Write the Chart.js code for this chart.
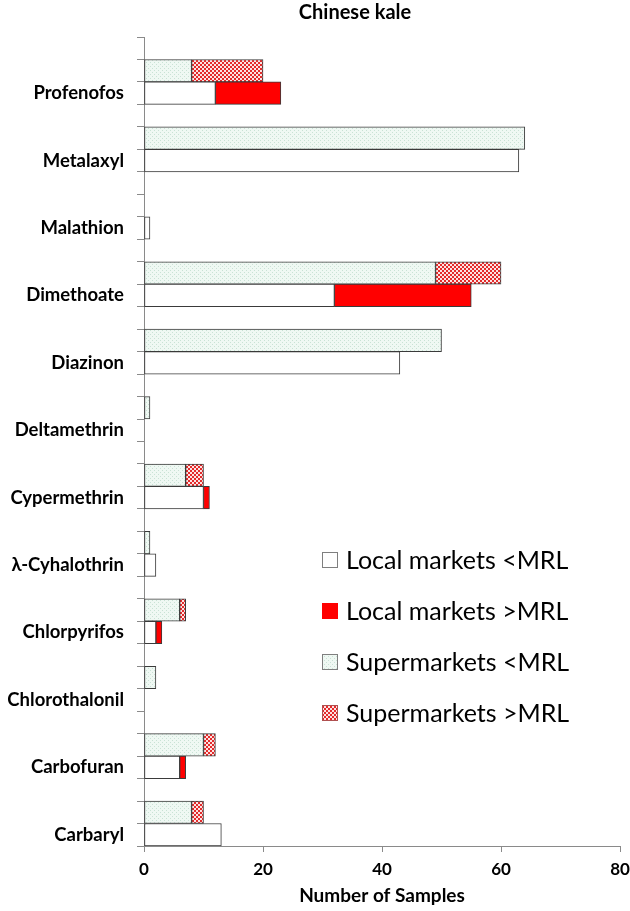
<!DOCTYPE html>
<html>
<head>
<meta charset="utf-8">
<script src="https://cdn.jsdelivr.net/npm/chart.js@4.4.0/dist/chart.umd.min.js"></script>
<style>
  body { margin: 0; background: #fff; }
  #wrap { width: 630px; height: 911px; }
</style>
</head>
<body>
<div id="wrap"><canvas id="kaleChart" width="630" height="911"></canvas></div>
<script>
// Values (number of samples)
const categories = ["Profenofos", "Metalaxyl", "Malathion", "Dimethoate", "Diazinon", "Deltamethrin",
                    "Cypermethrin", "λ-Cyhalothrin", "Chlorpyrifos", "Chlorothalonil", "Carbofuran", "Carbaryl"];
const localBelow = [12, 63, 1, 32, 43, 0, 10, 2, 2, 0, 6, 13];
const localAbove = [11, 0, 0, 23, 0, 0, 1, 0, 1, 0, 1, 0];
const superBelow = [8, 64, 0, 49, 50, 1, 7, 1, 6, 2, 10, 8];
const superAbove = [12, 0, 0, 11, 0, 0, 3, 0, 1, 0, 2, 2];
const xTicks = [0, 20, 40, 60, 80];

const FONT = "Lato, 'Open Sans', sans-serif";

// Fill patterns like the Excel originals
function dotPattern() {
    const c = document.createElement("canvas");
    c.width = 4; c.height = 4;
    const g = c.getContext("2d");
    g.fillStyle = "#eff8f3";
    g.fillRect(0, 0, 4, 4);
    g.fillStyle = "#c9e2d5";
    g.fillRect(0, 0, 1, 1);
    g.fillRect(2, 2, 1, 1);
    return g.createPattern(c, "repeat");
}
function checkPattern() {
    const c = document.createElement("canvas");
    c.width = 4; c.height = 4;
    const g = c.getContext("2d");
    g.fillStyle = "#fbe3e3";
    g.fillRect(0, 0, 4, 4);
    g.fillStyle = "#e42a2a";
    g.fillRect(0, 0, 2, 2);
    g.fillRect(2, 2, 2, 2);
    return g.createPattern(c, "repeat");
}

// Each pesticide takes three rows: blank, supermarkets, local markets
const rowLabels = [];
const rows = { lb: [], la: [], sb: [], sa: [] };
for (let i = 0; i < categories.length; i++) {
    rowLabels.push("", "", categories[i]);
    rows.lb.push(null, null, localBelow[i]);
    rows.la.push(null, null, localAbove[i]);
    rows.sb.push(null, superBelow[i], null);
    rows.sa.push(null, superAbove[i], null);
}

const edge = "#3a3a3a";
const datasets = [
    { label: "Local markets <MRL", data: rows.lb, backgroundColor: "#ffffff", legendBorder: "#7f7f7f" },
    { label: "Local markets >MRL", data: rows.la, backgroundColor: "#ff0000", legendBorder: "#ff0000" },
    { label: "Supermarkets <MRL", data: rows.sb, backgroundColor: dotPattern(), legendBorder: "#7f7f7f" },
    { label: "Supermarkets >MRL", data: rows.sa, backgroundColor: checkPattern(), legendBorder: "#b05050" },
].map(function(d) {
    return Object.assign(d, {
        borderColor: edge,
        borderWidth: 1,
        borderSkipped: false,
        barPercentage: 1,
        categoryPercentage: 1,
    });
});

// Title and legend drawn on top of the chart
const extras = {
    id: "extras",
    afterDraw(chart) {
        const ctx = chart.ctx;
        ctx.save();
        ctx.fillStyle = "#000";
        ctx.textBaseline = "middle";
        ctx.textAlign = "center";
        ctx.font = "bold 20px " + FONT;
        ctx.fillText("Chinese kale", 355, 13);

        ctx.textAlign = "left";
        ctx.font = "25px " + FONT;
        chart.data.datasets.forEach(function(ds, i) {
            const y = 560 + i * 51;
            ctx.fillStyle = ds.backgroundColor;
            ctx.fillRect(322, y - 8, 16, 16);
            ctx.strokeStyle = ds.legendBorder;
            ctx.lineWidth = 1;
            ctx.strokeRect(322.5, y - 7.5, 15, 15);
            ctx.fillStyle = "#000";
            ctx.fillText(ds.label, 346, y + 1);
        });
        ctx.restore();
    }
};

new Chart(document.getElementById("kaleChart"), {
    type: "bar",
    data: { labels: rowLabels, datasets: datasets },
    plugins: [extras],
    options: {
        responsive: false,
        animation: false,
        indexAxis: "y",
        layout: { padding: { top: 37, right: 10, left: 0, bottom: 0 } },
        plugins: {
            legend: { display: false },
            tooltip: { enabled: false },
        },
        scales: {
            x: {
                stacked: true,
                min: 0,
                max: 80,
                afterBuildTicks: function(scale) {
                    scale.ticks = xTicks.map(function(v) { return { value: v }; });
                },
                afterFit: function(scale) {
                    scale.height = 65;
                    scale.paddingRight = 0;
                },
                border: { color: "#8a8a8a", width: 1 },
                grid: { drawOnChartArea: false, drawTicks: true, tickLength: 6, color: "#8a8a8a" },
                ticks: { color: "#000", padding: 7, font: { family: FONT, size: 17, weight: "bold" } },
                title: {
                    display: true,
                    text: "Number of Samples",
                    color: "#000",
                    padding: { top: 2, bottom: 4 },
                    font: { family: FONT, size: 19, weight: "bold" },
                },
            },
            y: {
                stacked: true,
                afterFit: function(scale) { scale.width = 144; },
                border: { color: "#8a8a8a", width: 1 },
                grid: { offset: true, drawOnChartArea: false, drawTicks: true, tickLength: 7, color: "#8a8a8a" },
                ticks: {
                    autoSkip: false,
                    color: "#000",
                    padding: 13,
                    font: { family: FONT, size: 18.5, weight: "bold" },
                },
            },
        },
    },
});
</script>
</body>
</html>
